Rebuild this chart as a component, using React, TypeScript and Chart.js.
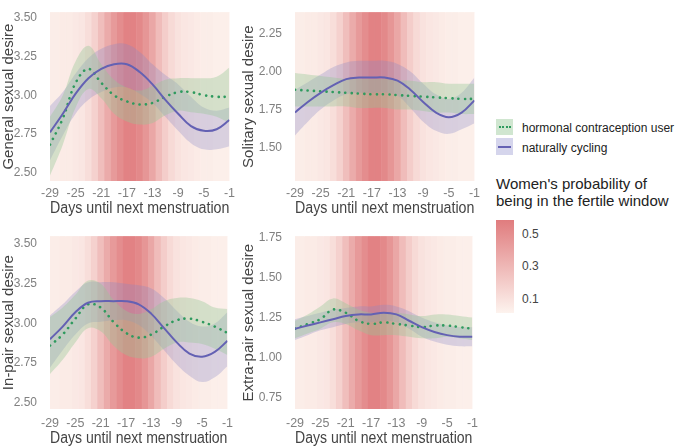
import React, { useEffect, useRef } from "react";
import { Chart, registerables } from "chart.js";
Chart.register(...registerables);

const days = [-29, -27, -25, -23, -21, -19, -17, -15, -13, -11, -9, -7, -5, -3, -1];
const allDays = Array.from({ length: 29 }, (_, i) => -29 + i);
const fertileProb = [0.05, 0.05, 0.06, 0.06, 0.07, 0.08, 0.12, 0.18, 0.27, 0.36, 0.44, 0.5, 0.55, 0.55, 0.52, 0.46, 0.38, 0.28, 0.2, 0.14, 0.1, 0.08, 0.07, 0.06, 0.05, 0.05, 0.04, 0.04, 0.04];
const xTicks = [-29, -25, -21, -17, -13, -9, -5, -1];

// Panel 1: General
const genNC = [2.76, 2.88, 3.01, 3.11, 3.17, 3.2, 3.2, 3.15, 3.07, 2.97, 2.88, 2.8, 2.77, 2.78, 2.84];
const genNCHi = [2.93, 3.02, 3.14, 3.24, 3.3, 3.33, 3.33, 3.28, 3.2, 3.13, 3.07, 2.99, 2.92, 2.9, 2.92];
const genNCLo = [2.58, 2.74, 2.88, 2.97, 3.02, 3.05, 3.05, 3.01, 2.95, 2.86, 2.77, 2.69, 2.65, 2.65, 2.67];
const genHC = [2.68, 2.85, 3.08, 3.17, 3.08, 3.0, 2.96, 2.94, 2.95, 2.99, 3.02, 3.02, 3.0, 2.99, 2.99];
const genHCHi = [2.86, 3.0, 3.22, 3.32, 3.2, 3.1, 3.05, 3.03, 3.06, 3.1, 3.11, 3.11, 3.11, 3.12, 3.18];
const genHCLo = [2.48, 2.68, 2.92, 3.04, 2.98, 2.88, 2.83, 2.81, 2.82, 2.87, 2.9, 2.89, 2.88, 2.86, 2.82];
// Panel 2: Solitary
const solNC = [1.73, 1.8, 1.86, 1.91, 1.95, 1.96, 1.96, 1.96, 1.94, 1.88, 1.8, 1.73, 1.7, 1.73, 1.81];
const solNCHi = [1.88, 1.93, 1.98, 2.03, 2.06, 2.07, 2.07, 2.07, 2.05, 2.0, 1.92, 1.85, 1.82, 1.86, 1.96];
const solNCLo = [1.58, 1.67, 1.75, 1.81, 1.85, 1.86, 1.86, 1.86, 1.84, 1.76, 1.67, 1.61, 1.59, 1.62, 1.66];
const solHC = [1.88, 1.875, 1.87, 1.865, 1.86, 1.855, 1.85, 1.85, 1.845, 1.84, 1.835, 1.83, 1.825, 1.82, 1.82];
const solHCHi = [1.99, 1.98, 1.97, 1.96, 1.95, 1.95, 1.95, 1.95, 1.94, 1.94, 1.93, 1.93, 1.92, 1.92, 1.92];
const solHCLo = [1.77, 1.77, 1.77, 1.77, 1.77, 1.76, 1.76, 1.76, 1.75, 1.75, 1.74, 1.73, 1.73, 1.72, 1.72];
// Panel 3: In-pair
const inNC = [2.9, 2.98, 3.07, 3.13, 3.14, 3.14, 3.14, 3.12, 3.06, 2.97, 2.88, 2.81, 2.79, 2.82, 2.89];
const inNCHi = [3.05, 3.12, 3.2, 3.26, 3.26, 3.26, 3.25, 3.24, 3.22, 3.16, 3.08, 3.01, 2.98, 3.0, 3.07];
const inNCLo = [2.72, 2.83, 2.93, 3.0, 3.01, 3.02, 3.02, 2.99, 2.92, 2.83, 2.74, 2.67, 2.63, 2.66, 2.73];
const inHC = [2.86, 2.93, 3.03, 3.12, 3.1, 3.01, 2.94, 2.91, 2.93, 2.98, 3.02, 3.03, 3.01, 2.98, 2.94];
const inHCHi = [3.04, 3.1, 3.18, 3.27, 3.25, 3.15, 3.08, 3.06, 3.09, 3.14, 3.16, 3.16, 3.14, 3.1, 3.09];
const inHCLo = [2.68, 2.77, 2.88, 2.97, 2.95, 2.86, 2.8, 2.78, 2.79, 2.84, 2.88, 2.88, 2.87, 2.84, 2.8];
// Panel 4: Extra-pair
const exNC = [1.18, 1.2, 1.22, 1.24, 1.26, 1.27, 1.27, 1.28, 1.27, 1.23, 1.19, 1.16, 1.14, 1.13, 1.13];
const exNCHi = [1.24, 1.26, 1.28, 1.3, 1.31, 1.32, 1.32, 1.33, 1.32, 1.29, 1.25, 1.22, 1.2, 1.19, 1.19];
const exNCLo = [1.11, 1.14, 1.17, 1.19, 1.21, 1.22, 1.22, 1.23, 1.22, 1.18, 1.13, 1.1, 1.08, 1.07, 1.07];
const exHC = [1.18, 1.21, 1.24, 1.3, 1.28, 1.23, 1.21, 1.22, 1.21, 1.2, 1.19, 1.2, 1.2, 1.19, 1.18];
const exHCHi = [1.23, 1.27, 1.32, 1.37, 1.34, 1.3, 1.28, 1.28, 1.28, 1.27, 1.26, 1.27, 1.27, 1.26, 1.25];
const exHCLo = [1.12, 1.15, 1.18, 1.22, 1.21, 1.17, 1.14, 1.14, 1.14, 1.13, 1.12, 1.12, 1.13, 1.12, 1.11];

const FONT = "'Liberation Sans', Arial, sans-serif";

function probColor(p: number) {
  const t = Math.max(0, Math.min(1, (p - 0.02) / 0.56));
  const a = [253, 243, 238], b = [224, 124, 126];
  const c = a.map((v, i) => Math.round(v + (b[i] - v) * t));
  return `rgb(${c[0]},${c[1]},${c[2]})`;
}

type P = {
  left: number; top: number; w: number; h: number; yw: number; padTop: number; padRight: number; xh: number; tp: number;
  min: number; max: number; yTicks: number[]; title: string;
  nc: number[]; ncHi: number[]; ncLo: number[]; hc: number[]; hcHi: number[]; hcLo: number[];
};

const panels: P[] = [
  { left: 0, top: 0, w: 240, h: 218, yw: 50, padTop: 2, padRight: 8, xh: 37, tp: 5, min: 2.445, max: 3.537, yTicks: [2.5, 2.75, 3, 3.25, 3.5], title: "General sexual desire", nc: genNC, ncHi: genNCHi, ncLo: genNCLo, hc: genHC, hcHi: genHCHi, hcLo: genHCLo },
  { left: 240, top: 0, w: 245, h: 218, yw: 55, padTop: 2, padRight: 8, xh: 37, tp: 5, min: 1.28, max: 2.39, yTicks: [1.5, 1.75, 2, 2.25], title: "Solitary sexual desire", nc: solNC, ncHi: solNCHi, ncLo: solNCLo, hc: solHC, hcHi: solHCHi, hcLo: solHCLo },
  { left: 0, top: 224, w: 240, h: 224, yw: 50, padTop: 6, padRight: 8, xh: 39, tp: 7, min: 2.46, max: 3.55, yTicks: [2.5, 2.75, 3, 3.25, 3.5], title: "In-pair sexual desire", nc: inNC, ncHi: inNCHi, ncLo: inNCLo, hc: inHC, hcHi: inHCHi, hcLo: inHCLo },
  { left: 240, top: 224, w: 245, h: 224, yw: 55, padTop: 6, padRight: 8, xh: 39, tp: 7, min: 0.677, max: 1.76, yTicks: [0.75, 1, 1.25, 1.5, 1.75], title: "Extra-pair sexual desire", nc: exNC, ncHi: exNCHi, ncLo: exNCLo, hc: exHC, hcHi: exHCHi, hcLo: exHCLo },
];

function Panel({ p }: { p: P }) {
  const ref = useRef<HTMLCanvasElement>(null);
  useEffect(() => {
    const pts = (arr: number[]) => days.map((d, i) => ({ x: d, y: arr[i] }));
    const band = (arr: number[], fill: any, color: string) => ({
      type: "line" as const, data: pts(arr), borderWidth: 0, pointRadius: 0, fill, backgroundColor: color,
      tension: 0.4, order: 5,
    });
    const chart = new Chart(ref.current!, {
      type: "bar",
      data: {
        datasets: [
          {
            type: "bar", data: allDays.map((d) => ({ x: d, y: [p.min, p.max] })) as any,
            backgroundColor: fertileProb.map(probColor), borderColor: fertileProb.map(probColor), borderWidth: 0.5,
            barPercentage: 1, categoryPercentage: 1, grouped: false, order: 10,
          } as any,
          band(p.hcLo, false, "rgba(0,0,0,0)"),
          band(p.hcHi, "-1", "rgba(150,200,150,0.38)"),
          band(p.ncLo, false, "rgba(0,0,0,0)"),
          band(p.ncHi, "-1", "rgba(135,135,200,0.3)"),
          {
            type: "line", data: pts(p.hc), borderColor: "#2f9a5e", borderWidth: 2.6, borderDash: [0.1, 6.2],
            borderCapStyle: "round", pointRadius: 0, fill: false, tension: 0.4, order: 1,
          } as any,
          {
            type: "line", data: pts(p.nc), borderColor: "#6461b3", borderWidth: 2, pointRadius: 0, fill: false,
            tension: 0.4, order: 0,
          } as any,
        ],
      },
      options: {
        animation: false, responsive: false, maintainAspectRatio: false,
        layout: { padding: { top: p.padTop, right: p.padRight, left: 0, bottom: 0 } },
        plugins: { legend: { display: false }, tooltip: { enabled: false } },
        scales: {
          x: {
            type: "linear", min: -29, max: -1, offset: false,
            grid: { display: false, drawTicks: false, tickLength: 0 }, border: { display: false },
            afterBuildTicks: (s: any) => { s.ticks = xTicks.map((v) => ({ value: v })); },
            afterFit: (s: any) => { s.height = p.xh; },
            ticks: { color: "#808080", font: { family: FONT, size: 12.5 }, padding: p.tp, maxRotation: 0, autoSkip: false },
            title: { display: true, text: "Days until next menstruation", color: "#444", font: { family: FONT, size: 16 }, padding: { top: 0, bottom: 0 } },
          },
          y: {
            type: "linear", min: p.min, max: p.max, grid: { display: false }, border: { display: false },
            afterBuildTicks: (s: any) => { s.ticks = p.yTicks.map((v) => ({ value: v })); },
            afterFit: (s: any) => { s.width = p.yw; },
            ticks: { color: "#808080", font: { family: FONT, size: 12 }, padding: 5, callback: (v: any) => Number(v).toFixed(2) },
            title: { display: true, text: p.title, color: "#444", font: { family: FONT, size: 15 }, padding: { top: 0, bottom: 2 } },
          },
        },
      } as any,
    });
    return () => chart.destroy();
  }, [p]);
  return (
    <canvas ref={ref} width={p.w} height={p.h}
      style={{ position: "absolute", left: p.left, top: p.top, width: p.w, height: p.h }} />
  );
}

const legendText: React.CSSProperties = { position: "absolute", fontFamily: FONT, fontSize: 12, color: "#222", whiteSpace: "nowrap" };

export default function App() {
  return (
    <div style={{ position: "absolute", left: 0, top: 0, width: 680, height: 447, background: "#fff", overflow: "hidden" }}>
      {panels.map((p, i) => <Panel key={i} p={p} />)}
      <div style={{ position: "absolute", left: 496, top: 119, width: 17, height: 16, background: "rgba(150,200,150,0.45)" }}>
        <div style={{ position: "absolute", left: 3, top: 7, width: 12, borderTop: "2.5px dotted #2f9a5e" }} />
      </div>
      <div style={{ position: "absolute", left: 496, top: 138, width: 17, height: 17, background: "rgba(135,135,200,0.35)" }}>
        <div style={{ position: "absolute", left: 2, top: 8, width: 13, height: 2, background: "#6461b3" }} />
      </div>
      <div style={{ ...legendText, left: 522, top: 121 }}>hormonal contraception user</div>
      <div style={{ ...legendText, left: 522, top: 141 }}>naturally cycling</div>
      <div style={{ ...legendText, left: 496, top: 175, fontSize: 15, lineHeight: "17px", color: "#222" }}>
        Women's probability of<br />being in the fertile window
      </div>
      <div style={{ position: "absolute", left: 496, top: 220, width: 18, height: 93, background: `linear-gradient(to bottom, ${probColor(0.58)}, ${probColor(0.02)})` }} />
      <div style={{ ...legendText, left: 522, top: 227, color: "#444" }}>0.5</div>
      <div style={{ ...legendText, left: 522, top: 259, color: "#444" }}>0.3</div>
      <div style={{ ...legendText, left: 522, top: 292, color: "#444" }}>0.1</div>
    </div>
  );
}
